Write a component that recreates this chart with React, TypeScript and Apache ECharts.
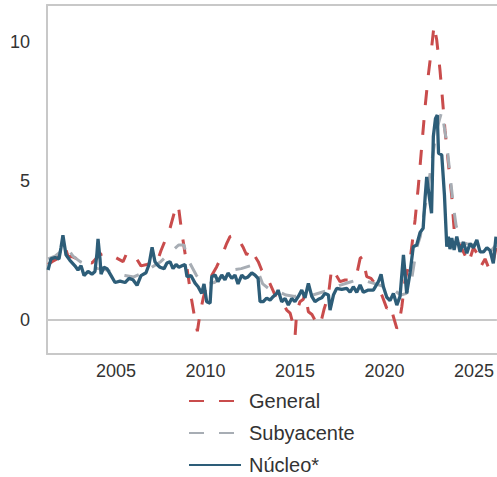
import React, { useEffect, useRef } from "react";
import * as echarts from "echarts";

const xTicks = [2005, 2010, 2015, 2020, 2025];
const yTicks = [0, 5, 10];

const generalYears = [
  2001.21, 2001.43, 2001.71, 2001.99, 2002.16, 2002.32, 2002.55, 2002.83, 2003.1, 2003.38,
  2003.66, 2003.88, 2004.11, 2004.39, 2004.61, 2004.84, 2005.12, 2005.4, 2005.6, 2005.84,
  2006.16, 2006.4, 2006.72, 2007.02, 2007.3, 2007.52, 2007.74, 2008.02, 2008.3, 2008.48,
  2008.67, 2008.86, 2009.03, 2009.23, 2009.42, 2009.55, 2009.7, 2009.88, 2010.07, 2010.35,
  2010.63, 2010.91, 2011.19, 2011.37, 2011.65, 2011.93, 2012.12, 2012.3, 2012.49, 2012.71,
  2012.95, 2013.14, 2013.42, 2013.61, 2013.89, 2014.17, 2014.54, 2014.73, 2014.91, 2015.01,
  2015.1, 2015.28, 2015.47, 2015.56, 2015.75, 2015.95, 2016.22, 2016.41, 2016.63, 2016.87,
  2017.05, 2017.24, 2017.52, 2017.8, 2018.08, 2018.26, 2018.47, 2018.64, 2018.77, 2019.01,
  2019.25, 2019.48, 2019.64, 2019.85, 2020.13, 2020.31, 2020.5, 2020.69, 2020.79, 2020.97,
  2021.15, 2021.43, 2021.71, 2021.89, 2022.08, 2022.27, 2022.45, 2022.64, 2022.77, 2022.92,
  2023.1, 2023.23, 2023.38, 2023.57, 2023.76, 2023.85, 2023.94, 2024.22, 2024.45, 2024.7,
  2024.97, 2025.17, 2025.4, 2025.62, 2025.9, 2026.08, 2026.23,
];
const generalValues = [
  2.0, 2.1, 2.2, 2.6, 2.64, 2.3, 2.28, 2.2, 2.15, 2.1,
  2.05, 2.2, 2.35, 2.4, 2.35, 2.3, 2.2, 2.1, 2.4, 2.4,
  2.2, 1.95, 2.0, 2.05, 2.1, 2.5, 2.85, 3.3, 3.96, 4.15,
  3.2, 2.4, 1.6, 0.72, 0.0, -0.4, 0.24, 0.8, 1.25, 1.6,
  1.92, 2.3, 2.76, 3.0, 3.06, 2.82, 2.6, 2.34, 2.58, 2.35,
  2.1, 1.8, 1.56, 1.3, 0.9, 0.8, 0.36, 0.25, -0.18, -0.54,
  0.3, 0.66, 0.75, 1.0, 0.3, 0.2, -0.12, -0.18, 0.4, 0.9,
  1.86, 1.68, 1.38, 1.44, 1.44, 1.62, 1.7, 2.22, 2.28, 1.56,
  1.5, 1.3, 1.2, 0.9, 0.42, 0.55, 0.12, -0.3, -0.2, 0.48,
  1.44, 2.16, 3.6, 4.8, 6.23, 7.67, 8.81, 9.83, 10.6, 10.07,
  9.0, 8.03, 6.83, 5.63, 4.44, 3.6, 2.88, 2.7, 2.4, 2.05,
  2.6, 2.4, 1.95, 2.2, 1.75, 2.1, 2.6,
];

const subyacenteYears = [
  2001.21, 2001.6, 2002.0, 2002.21, 2002.6, 2003.0, 2003.5, 2004.0, 2004.5, 2005.0,
  2005.5, 2006.0, 2006.5, 2007.0, 2007.5, 2008.0, 2008.5, 2008.8, 2009.0, 2009.5,
  2010.0, 2010.5, 2011.0, 2011.5, 2012.0, 2012.5, 2012.9, 2013.2, 2013.6, 2014.0,
  2014.5, 2015.0, 2015.5, 2016.0, 2016.5, 2017.0, 2017.5, 2018.0, 2018.5, 2019.0,
  2019.5, 2020.0, 2020.5, 2020.9, 2021.2, 2021.45, 2021.8, 2022.0, 2022.3, 2022.6,
  2022.9, 2023.2, 2023.45, 2023.65, 2023.85, 2024.0, 2024.3, 2024.6, 2025.0, 2025.5,
  2025.9, 2026.23,
];
const subyacenteValues = [
  2.2, 2.3, 2.5, 2.65, 2.3, 2.1, 1.95, 1.85, 1.8, 1.65,
  1.6, 1.55, 1.7, 1.9, 2.1, 2.4, 2.7, 2.7, 2.2, 1.6,
  1.3, 1.35, 1.6, 1.8, 1.85, 1.95, 1.8, 1.3, 1.1, 1.05,
  0.9, 0.85, 0.95, 0.9, 1.0, 1.1, 1.25, 1.35, 1.45, 1.4,
  1.3, 1.2, 1.1, 0.9, 0.95, 1.2, 2.6, 3.0, 4.2, 5.5,
  6.8, 7.5, 6.5, 5.3, 4.1, 3.4, 2.8, 2.75, 2.7, 2.6,
  2.45, 2.7,
];

const nucleoYears = [
  2001.21, 2001.37, 2001.6, 2001.82, 2001.93, 2002.04, 2002.21, 2002.43, 2002.71, 2002.88,
  2003.05, 2003.22, 2003.44, 2003.66, 2003.83, 2003.94, 2004.0, 2004.11, 2004.17, 2004.33,
  2004.5, 2004.73, 2004.95, 2005.23, 2005.51, 2005.73, 2005.95, 2006.18, 2006.4, 2006.68,
  2006.85, 2007.02, 2007.18, 2007.3, 2007.46, 2007.69, 2007.85, 2008.02, 2008.19, 2008.36,
  2008.52, 2008.69, 2008.86, 2008.97, 2009.19, 2009.42, 2009.59, 2009.79, 2009.92, 2010.07,
  2010.26, 2010.35, 2010.54, 2010.7, 2010.91, 2011.09, 2011.26, 2011.47, 2011.65, 2011.82,
  2012.03, 2012.21, 2012.38, 2012.59, 2012.77, 2012.94, 2013.05, 2013.22, 2013.42, 2013.61,
  2013.78, 2013.98, 2014.06, 2014.26, 2014.45, 2014.63, 2014.82, 2015.0, 2015.19, 2015.38,
  2015.56, 2015.75, 2015.94, 2016.12, 2016.31, 2016.5, 2016.68, 2016.87, 2016.96, 2017.15,
  2017.33, 2017.61, 2017.89, 2018.08, 2018.26, 2018.45, 2018.64, 2018.82, 2019.1, 2019.38,
  2019.66, 2019.81, 2019.94, 2020.13, 2020.31, 2020.5, 2020.69, 2020.87, 2021.06, 2021.24,
  2021.43, 2021.61, 2021.8, 2021.99, 2022.16, 2022.27, 2022.36, 2022.49, 2022.63, 2022.73,
  2022.85, 2022.95, 2023.02, 2023.2, 2023.35, 2023.48, 2023.57, 2023.66, 2023.76, 2023.89,
  2024.04, 2024.22, 2024.41, 2024.6, 2024.78, 2024.97, 2025.16, 2025.34, 2025.53, 2025.72,
  2025.9, 2026.08, 2026.23,
];
const nucleoValues = [
  1.8, 2.2, 2.25, 2.2, 2.6, 3.05, 2.35, 2.15, 1.95, 1.8,
  1.95, 1.6, 1.75, 1.65, 1.75, 2.4, 2.92, 2.2, 1.65, 1.9,
  1.85, 1.6, 1.35, 1.4, 1.35, 1.5, 1.45, 1.25, 1.6, 1.7,
  2.0, 2.62, 2.1, 2.0, 1.9, 1.85, 2.05, 2.1, 1.85, 2.0,
  1.9, 1.95, 2.0, 1.56, 1.6, 1.33, 1.2, 0.96, 1.3, 0.66,
  0.61, 1.56, 1.62, 1.38, 1.62, 1.45, 1.69, 1.5, 1.62, 1.3,
  1.62, 1.5, 1.55, 1.7, 1.62, 1.5, 0.66, 0.66, 0.79, 0.72,
  0.84, 0.96, 1.08, 0.66, 0.78, 0.54, 0.78, 0.66, 0.85, 1.08,
  0.8, 1.32, 0.85, 0.66, 0.75, 0.8, 0.96, 0.9, 0.36, 0.9,
  1.14, 1.1, 1.14, 1.0, 1.2, 1.0, 1.26, 1.0, 1.08, 1.08,
  1.38, 1.65, 1.2, 0.82, 0.7, 0.96, 0.54, 0.85, 2.34, 0.96,
  1.7, 2.64, 2.7, 3.15, 3.3, 4.4, 5.15, 4.5, 3.84, 6.6,
  7.25, 7.37, 6.0, 5.94, 4.5, 2.64, 3.0, 2.55, 2.95, 2.52,
  3.0, 2.45, 2.8, 2.4, 2.75, 2.6, 2.88, 2.45, 2.45, 2.6,
  2.5, 2.04, 3.0,
];

const seriesNames = ["General", "Subyacente", "Núcleo*"];
const font = "'Liberation Sans', Arial, sans-serif";

function pairs(xs: number[], ys: number[]) {
  return xs.map((x, i) => [x, ys[i]]);
}

export default function App() {
  const ref = useRef<HTMLDivElement>(null);
  useEffect(() => {
    if (!ref.current) return;
    const chart = echarts.init(ref.current, undefined, { renderer: "svg" });
    const frame = "#c8c8c8";
    const dash = [15, 15];
    chart.setOption({
      animation: false,
      backgroundColor: "#ffffff",
      textStyle: { fontFamily: font },
      grid: { left: 47, right: 0, top: 5, bottom: 123, containLabel: false },
      xAxis: [
        {
          type: "value",
          min: 2001.15,
          max: 2026.28,
          position: "bottom",
          axisLine: { show: true, onZero: false, lineStyle: { color: frame, width: 2 } },
          axisTick: { show: false },
          splitLine: { show: false },
          axisLabel: {
            customValues: xTicks,
            color: "#333333",
            fontSize: 18,
            fontFamily: font,
            margin: 8,
            formatter: (v: number) => String(v),
          },
        },
        {
          type: "value",
          min: 2001.15,
          max: 2026.28,
          position: "top",
          axisLine: { show: true, onZero: false, lineStyle: { color: frame, width: 2 } },
          axisTick: { show: false },
          splitLine: { show: false },
          axisLabel: { show: false },
        },
      ],
      yAxis: {
        type: "value",
        min: -1.22,
        max: 11.33,
        axisLine: { show: true, onZero: false, lineStyle: { color: frame, width: 2 } },
        axisTick: { show: false },
        splitLine: { show: false },
        axisLabel: {
          customValues: yTicks,
          color: "#333333",
          fontSize: 18,
          fontFamily: font,
          margin: 17,
          formatter: (v: number) => String(v),
        },
      },
      legend: {
        orient: "vertical",
        left: 188,
        top: 391,
        padding: 0,
        itemWidth: 52,
        itemHeight: 14,
        itemGap: 12,
        data: seriesNames,
        itemStyle: { opacity: 0 },
        textStyle: {
          color: "#333333",
          fontSize: 20,
          fontFamily: font,
          lineHeight: 20,
          padding: [0, 0, 0, 3],
        },
      },
      series: [
        {
          name: seriesNames[0],
          type: "line",
          symbol: "none",
          data: pairs(generalYears, generalValues),
          lineStyle: { color: "#c94c4c", width: 3, type: dash },
          itemStyle: { color: "#c94c4c" },
          z: 2,
          markLine: {
            silent: true,
            symbol: "none",
            label: { show: false },
            lineStyle: { color: frame, width: 2, type: "solid" },
            data: [{ yAxis: 0 }],
            z: 1,
          },
        },
        {
          name: seriesNames[1],
          type: "line",
          symbol: "none",
          data: pairs(subyacenteYears, subyacenteValues),
          lineStyle: { color: "#a7adb4", width: 3, type: dash },
          itemStyle: { color: "#a7adb4" },
          z: 3,
        },
        {
          name: seriesNames[2],
          type: "line",
          symbol: "none",
          data: pairs(nucleoYears, nucleoValues),
          lineStyle: { color: "#2d5d78", width: 3.3, type: "solid" },
          itemStyle: { color: "#2d5d78" },
          z: 4,
        },
      ],
    });
    return () => chart.dispose();
  }, []);
  return <div ref={ref} style={{ width: 497, height: 477, position: "absolute", left: 0, top: 0 }} />;
}
